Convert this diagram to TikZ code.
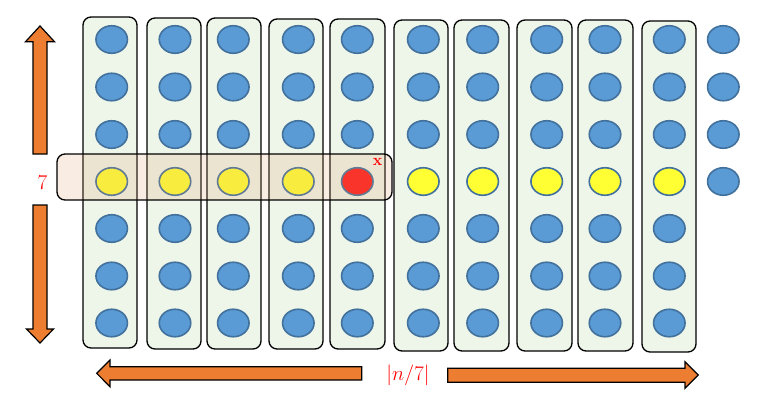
\documentclass[tikz,border=0pt]{standalone}
\usetikzlibrary{shapes.geometric}
\definecolor{colgreen}{HTML}{EEF5E9}
\definecolor{dotblue}{HTML}{5B9BD5}
\definecolor{dotedge}{HTML}{41719C}
\definecolor{dotyellow}{HTML}{FFFF33}
\definecolor{dotred}{HTML}{FF1A1A}
\definecolor{arroworange}{HTML}{ED7D31}
\definecolor{rowtan}{HTML}{DCA073}
\tikzset{
  group/.style={draw, line width=1.3pt, fill=colgreen, rounded corners=8pt},
  dot/.style={ellipse, draw=dotedge, line width=1.6pt, fill=dotblue, minimum width=31.5pt, minimum height=27.5pt, inner sep=0pt},
  blockarrow/.style={draw, line width=1.2pt, fill=arroworange, line join=miter},
  lbl/.style={text=red, font=\fontsize{21}{24}\selectfont}
}
\begin{document}
\begin{tikzpicture}[x=1pt, y=-1pt]
\useasboundingbox (0,0) rectangle (780,402);
	%groups of seven
	\foreach \l/\r/\t/\b in {83/137/17/348, 147/201/18/349, 207/261/18/349, 269/323/19/349, 330/385/19/349, 394/448/20/351, 454/509/20/351, 517/572/20/351, 578/633/20/351, 642/696/21/352}
		\draw[group] (\l,\t) rectangle (\r,\b);
	
	%points
	\foreach \i/\cx in {1/111.7, 2/175, 3/233.3, 4/298.3, 5/357.3, 6/423.3, 7/482.7, 8/546.7, 9/605, 10/669.3}
		\foreach \j/\cy in {1/39.5, 2/87, 3/134.5, 5/228.5, 6/276, 7/323}
			\node[dot] (d-\i-\j) at (\cx,\cy) {};
	\foreach \j/\cy in {1/39.5, 2/87, 3/134.5, 4/181.5}
		\node[dot] (d-11-\j) at (723.3,\cy) {};
	
	%medians
	\foreach \i/\cx/\c in {1/111.7/dotyellow, 2/175/dotyellow, 3/233.3/dotyellow, 4/298.3/dotyellow, 5/357.3/dotred, 6/423.3/dotyellow, 7/482.7/dotyellow, 8/546.7/dotyellow, 9/605/dotyellow, 10/669.3/dotyellow}
		\node[dot, fill=\c] (d-\i-4) at (\cx,181.5) {};
	\draw[line width=1.3pt, rounded corners=8pt, fill=rowtan, fill opacity=0.2] (57,154) rectangle (392,200);
	\node[text=red, font=\bfseries\fontsize{16}{18}\selectfont] (x) at (377.5,162) {x};
	
	%height
	\node[lbl] (height) at (42.5,183) {7};
	\draw[blockarrow] (33,154)--(33,41.7)--(25.5,41.7)--(40,26)--(54.5,41.7)--(47,41.7)--(47,154)--cycle;
	\draw[blockarrow] (33,205)--(47,205)--(47,329)--(53.5,329)--(40,343)--(26.5,329)--(33,329)--cycle;
	
	%width
	\node[lbl] (width) at (408,375) {$|n/7|$};
	\draw[blockarrow] (361.7,366.7)--(110,366.7)--(110,360)--(96.7,373.3)--(110,386.7)--(110,380)--(361.7,380)--cycle;
	\draw[blockarrow] (447.7,368.3)--(685,368.3)--(685,361.7)--(698.3,375)--(685,388.3)--(685,382.3)--(447.7,382.3)--cycle;
\end{tikzpicture}
\end{document}
